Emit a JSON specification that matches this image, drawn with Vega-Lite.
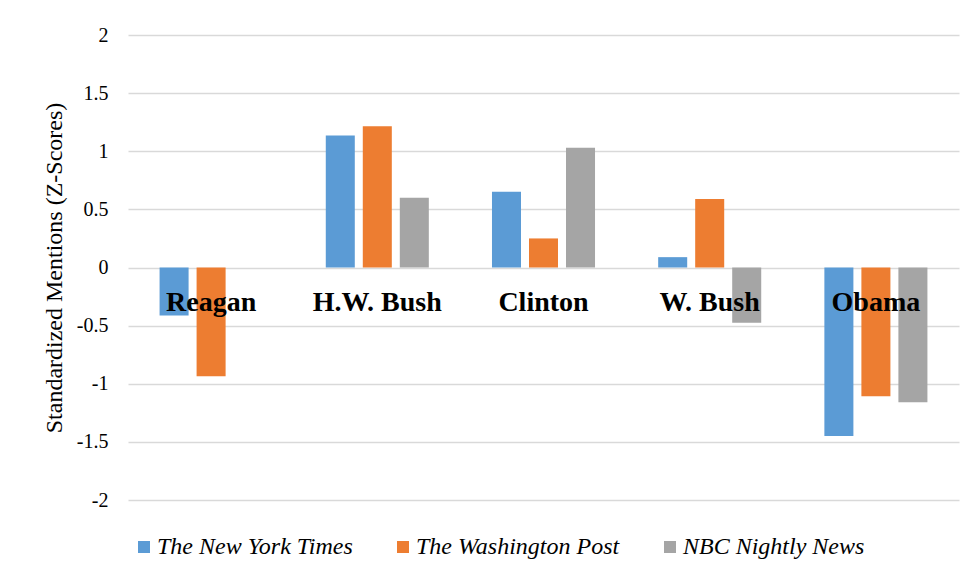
{
  "$schema": "https://vega.github.io/schema/vega-lite/v6.json",
  "width": 831,
  "height": 465,
  "autosize": {"type": "none"},
  "padding": {"left": 128, "top": 35, "right": 13, "bottom": 80},
  "background": "white",
  "config": {
    "view": {"stroke": null},
    "font": "Liberation Serif"
  },
  "datasets": {
    "bars": [
      {"president": "Reagan", "outlet": "The New York Times", "value": -0.413},
      {"president": "Reagan", "outlet": "The Washington Post", "value": -0.935},
      {"president": "H.W. Bush", "outlet": "The New York Times", "value": 1.135},
      {"president": "H.W. Bush", "outlet": "The Washington Post", "value": 1.215},
      {"president": "H.W. Bush", "outlet": "NBC Nightly News", "value": 0.6},
      {"president": "Clinton", "outlet": "The New York Times", "value": 0.651},
      {"president": "Clinton", "outlet": "The Washington Post", "value": 0.25},
      {"president": "Clinton", "outlet": "NBC Nightly News", "value": 1.03},
      {"president": "W. Bush", "outlet": "The New York Times", "value": 0.089},
      {"president": "W. Bush", "outlet": "The Washington Post", "value": 0.59},
      {"president": "W. Bush", "outlet": "NBC Nightly News", "value": -0.476},
      {"president": "Obama", "outlet": "The New York Times", "value": -1.45},
      {"president": "Obama", "outlet": "The Washington Post", "value": -1.107},
      {"president": "Obama", "outlet": "NBC Nightly News", "value": -1.16}
    ],
    "labels": [
      {"president": "Reagan"},
      {"president": "H.W. Bush"},
      {"president": "Clinton"},
      {"president": "W. Bush"},
      {"president": "Obama"}
    ]
  },
  "layer": [
    {
      "data": {"name": "bars"},
      "mark": {"type": "bar"},
      "encoding": {
        "x": {
          "field": "president",
          "type": "nominal",
          "sort": ["Reagan", "H.W. Bush", "Clinton", "W. Bush", "Obama"],
          "scale": {"paddingInner": 0.38, "paddingOuter": 0.19},
          "axis": null
        },
        "xOffset": {
          "field": "outlet",
          "type": "nominal",
          "sort": ["The New York Times", "The Washington Post", "NBC Nightly News"],
          "scale": {"paddingInner": 0.216, "paddingOuter": 0}
        },
        "y": {
          "field": "value",
          "type": "quantitative",
          "scale": {"domain": [-2, 2], "nice": false, "zero": false},
          "axis": {
            "values": [-2, -1.5, -1, -0.5, 0, 0.5, 1, 1.5, 2],
            "labelExpr": "datum.value + ''",
            "title": "Standardized Mentions (Z-Scores)",
            "titleFont": "Liberation Serif",
            "titleFontSize": 24,
            "titleFontWeight": "normal",
            "titleColor": "#000000",
            "titlePadding": 10,
            "labelFont": "Liberation Serif",
            "labelFontSize": 20,
            "labelColor": "#000000",
            "labelPadding": 20,
            "ticks": false,
            "domain": false,
            "grid": true,
            "gridColor": "#d9d9d9",
            "gridWidth": 1.5
          }
        },
        "color": {
          "field": "outlet",
          "type": "nominal",
          "scale": {
            "domain": ["The New York Times", "The Washington Post", "NBC Nightly News"],
            "range": ["#5B9BD5", "#ED7D31", "#A5A5A5"]
          },
          "legend": {
            "title": null,
            "orient": "none",
            "direction": "horizontal",
            "legendX": 4,
            "legendY": 500,
            "symbolType": "square",
            "symbolSize": 144,
            "symbolStrokeWidth": 0,
            "labelFont": "Liberation Serif",
            "labelFontStyle": "italic",
            "labelFontSize": 24,
            "labelColor": "#000000",
            "labelOffset": 1,
            "columnPadding": 38,
            "labelLimit": 400
          }
        }
      }
    },
    {
      "data": {"name": "labels"},
      "mark": {
        "type": "text",
        "font": "Liberation Serif",
        "fontSize": 28,
        "fontWeight": "bold",
        "color": "#000000",
        "baseline": "alphabetic",
        "align": "center"
      },
      "encoding": {
        "x": {
          "field": "president",
          "type": "nominal",
          "sort": ["Reagan", "H.W. Bush", "Clinton", "W. Bush", "Obama"]
        },
        "y": {"datum": -0.378, "type": "quantitative"},
        "text": {"field": "president"}
      }
    }
  ]
}
